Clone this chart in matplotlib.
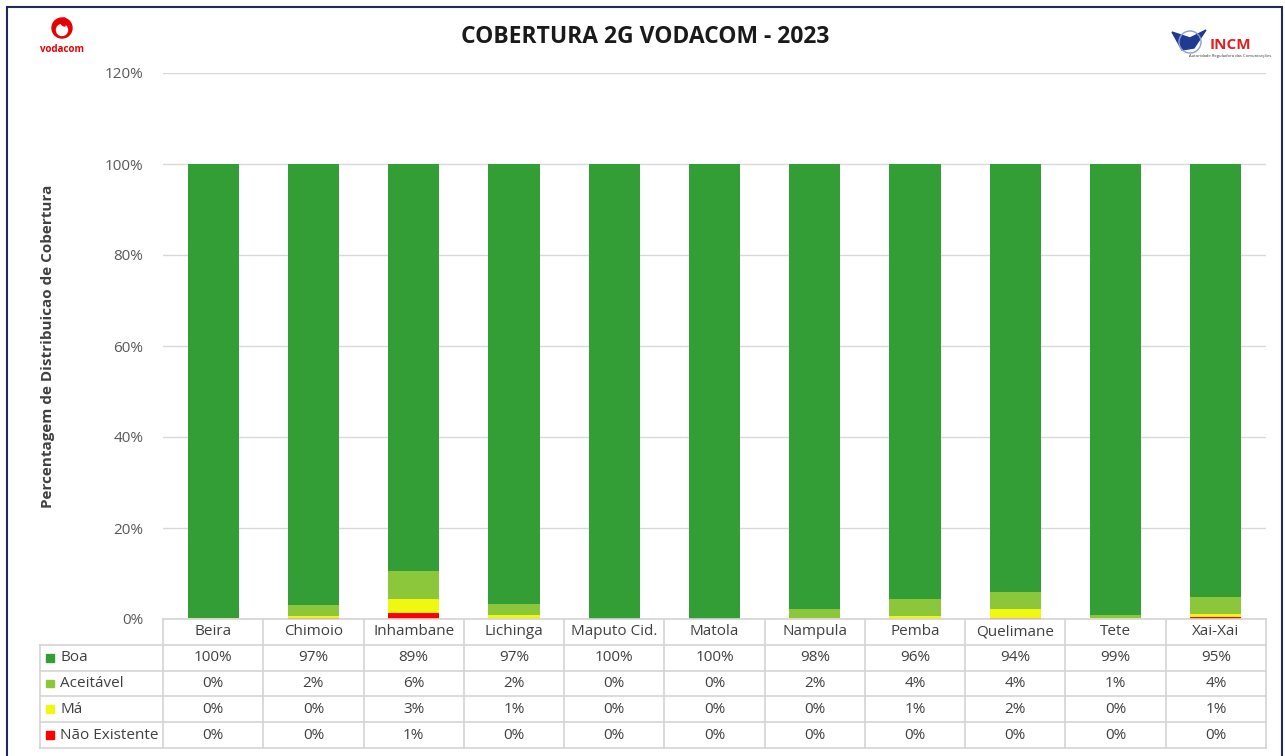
import numpy as np
import matplotlib.pyplot as plt
from matplotlib.patches import Rectangle, Circle, Wedge, Polygon

plt.rcParams['font.family'] = ['Open Sans', 'DejaVu Sans']

cities = ['Beira', 'Chimoio', 'Inhambane', 'Lichinga', 'Maputo Cid.', 'Matola',
          'Nampula', 'Pemba', 'Quelimane', 'Tete', 'Xai-Xai']
boa = [99.8, 97.0, 89.4, 96.7, 100.0, 100.0, 97.8, 95.6, 94.1, 99.1, 95.2]
aceitavel = [0.0, 2.4, 6.3, 2.4, 0.0, 0.0, 1.9, 3.8, 3.7, 0.7, 3.7]
ma = [0.2, 0.4, 3.0, 0.9, 0.0, 0.0, 0.3, 0.6, 1.9, 0.2, 0.7]
nao_existente = [0.0, 0.2, 1.3, 0.0, 0.0, 0.0, 0.0, 0.0, 0.3, 0.0, 0.4]

series = [('Boa', boa, '#339e35'),
          ('Aceitável', aceitavel, '#8cc63a'),
          ('Má', ma, '#f0f812'),
          ('Não Existente', nao_existente, '#ff0000')]

W, H = 1285, 756
fig = plt.figure(figsize=(W / 100, H / 100), dpi=100)

# moldura
fig.patches.append(Rectangle((7 / W, -0.01), 1275 / W, 1 - 7 / H + 0.01,
                             transform=fig.transFigure, fill=False,
                             edgecolor='#1f2a5a', linewidth=1.5))

ax = fig.add_axes([163 / W, 1 - 619 / H, (1266 - 163) / W, (619 - 73) / H])
x = np.arange(len(cities))
bottom = np.zeros(len(cities))
# empilhado de baixo para cima: Não Existente, Má, Aceitável, Boa
for name, vals, col in series[::-1]:
    v = np.array(vals) / 100
    ax.bar(x, v, 0.51, bottom=bottom, color=col, zorder=3)
    bottom += v

ax.set_xlim(-0.5, len(cities) - 0.5)
ax.set_ylim(0, 1.2)
ax.set_yticks(np.arange(0, 1.21, 0.2))
ax.set_yticklabels([f'{int(round(t * 100))}%' for t in np.arange(0, 1.21, 0.2)],
                   fontsize=11, color='#595959')
ax.tick_params(axis='y', length=0, pad=14)
ax.set_xticks([])
ax.grid(axis='y', color='#d9d9d9', linewidth=1, zorder=0)
for s in ax.spines.values():
    s.set_visible(False)
ax.set_ylabel('Percentagem de Distribuicao de Cobertura', fontsize=11,
              fontweight='bold', color='#404040', labelpad=36)

fig.text(645 / W, 1 - 37 / H, 'COBERTURA 2G VODACOM - 2023', ha='center',
         va='center', fontsize=16.5, fontweight='bold', color='#1a1a1a')

# tabela de dados
tx0 = 40
tax = fig.add_axes([tx0 / W, 1 - 748 / H, (1266 - tx0) / W, (748 - 619) / H])
left = -0.5 - (163 - tx0) / 100.3
tax.set_xlim(left, len(cities) - 0.5)
tax.set_ylim(5, 0)
tax.axis('off')
gc = '#d4d4d4'
for i in range(len(cities) + 1):
    tax.plot([i - 0.5, i - 0.5], [0, 5], color=gc, lw=1.2, clip_on=False)
tax.plot([left, left], [1, 5], color=gc, lw=1.2, clip_on=False)
tax.plot([-0.5, len(cities) - 0.5], [0, 0], color=gc, lw=1.2, clip_on=False)
for r in range(1, 6):
    tax.plot([left, len(cities) - 0.5], [r, r], color=gc, lw=1.2, clip_on=False)
for i, c in enumerate(cities):
    tax.text(i, 0.5, c, ha='center', va='center', fontsize=11, color='#404040')
for r, (name, vals, col) in enumerate(series, start=1):
    tax.add_patch(Rectangle((left + 0.06, r + 0.35), 0.075, 0.3, color=col,
                            clip_on=False))
    tax.text(left + 0.2, r + 0.5, name, ha='left', va='center',
             fontsize=11, color='#404040')
    for i, v in enumerate(vals):
        tax.text(i, r + 0.5, f'{int(np.floor(v + 0.5))}%', ha='center',
                 va='center', fontsize=11, color='#404040')

# logo vodacom
lax = fig.add_axes([35 / W, 1 - 62 / H, 55 / W, 50 / H])
lax.set_xlim(0, 55)
lax.set_ylim(0, 50)
lax.set_aspect('equal')
lax.axis('off')
lax.add_patch(Circle((27, 34), 10, color='#e60000'))
lax.add_patch(Circle((27, 32), 5.5, color='white'))
lax.add_patch(Wedge((30, 40), 4, 90, 270, color='#e60000'))
lax.text(27, 12, 'vodacom', ha='center', va='center', fontsize=7,
         fontweight='bold', color='#e60000')

# logo INCM
iax = fig.add_axes([1170 / W, 1 - 62 / H, 100 / W, 36 / H])
iax.set_xlim(0, 100)
iax.set_ylim(0, 36)
iax.axis('off')
iax.add_patch(Polygon([[2, 30], [20, 24], [36, 32], [24, 14], [12, 12]],
                      color='#1f3a93'))
iax.add_patch(Circle((20, 20), 11, fill=False, edgecolor='#8aa0d0', lw=1))
iax.text(40, 17, 'INCM', ha='left', va='center', fontsize=11,
         fontweight='bold', color='#e02020')
iax.text(60, 6, 'Autoridade Reguladora das Comunicações', ha='center',
         va='center', fontsize=3, color='#333333')

fig.savefig('out.png', dpi=100)
